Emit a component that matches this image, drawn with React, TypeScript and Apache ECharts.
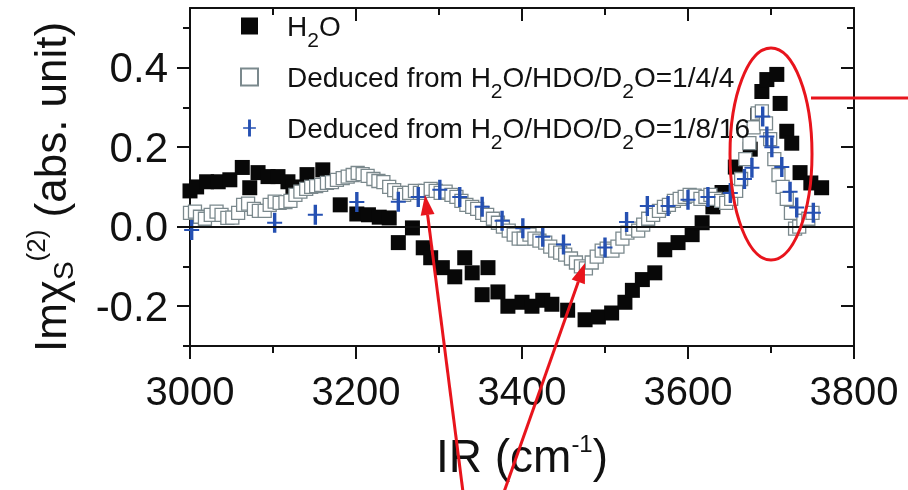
import React, { useEffect, useRef } from "react";
import * as echarts from "echarts";

const FONT = "'Liberation Sans', Arial, Helvetica, sans-serif";

// X axis
const X_MIN = 3000;
const X_MAX = 3800;
const X_STEP = 200;
// Y axis (full data range, minor tick range, major tick range)
const Y_MIN = -0.3;
const Y_MAX = 0.55;
const Y_MINOR_MAX = 0.5;
const Y_MINOR_STEP = 0.1;
const Y_MAJOR_MIN = -0.2;
const Y_MAJOR_MAX = 0.4;
const Y_MAJOR_STEP = 0.2;

const seriesNames = ["H2O", "Deduced 1/4/4", "Deduced 1/8/16"];
const legendLabels = [
  "H{sub|2}O",
  "Deduced from H{sub|2}O/HDO/D{sub|2}O=1/4/4",
  "Deduced from H{sub|2}O/HDO/D{sub|2}O=1/8/16",
];

// H2O (filled squares)
const h2oX = [3000, 3008, 3020, 3034, 3048, 3063, 3072, 3082, 3094, 3106, 3118, 3124, 3141, 3160, 3181, 3201, 3215, 3228, 3240, 3251, 3268, 3281, 3290, 3304, 3319, 3331, 3340, 3352, 3359, 3371, 3383, 3400, 3412, 3425, 3436, 3455, 3476, 3492, 3508, 3524, 3533, 3545, 3560, 3572, 3588, 3605, 3617, 3630, 3641, 3657, 3675, 3684, 3689, 3695, 3707, 3711, 3719, 3725, 3735, 3748, 3761];
const h2oY = [0.09, 0.1, 0.113, 0.113, 0.118, 0.149, 0.098, 0.136, 0.126, 0.126, 0.113, 0.1, 0.131, 0.143, 0.055, 0.032, 0.03, 0.024, 0.022, -0.04, -0.003, -0.053, -0.078, -0.103, -0.126, -0.078, -0.116, -0.171, -0.103, -0.164, -0.2, -0.19, -0.2, -0.185, -0.195, -0.21, -0.234, -0.227, -0.217, -0.19, -0.16, -0.133, -0.116, -0.058, -0.04, -0.02, 0.01, 0.05, 0.086, 0.15, 0.195, 0.28, 0.34, 0.37, 0.383, 0.31, 0.24, 0.21, 0.136, 0.11, 0.098];

// Deduced from H2O/HDO/D2O = 1/4/4 (open squares)
const d144X = [3000, 3006, 3012, 3018, 3025, 3032, 3038, 3045, 3051, 3058, 3064, 3070, 3077, 3083, 3090, 3096, 3102, 3108, 3115, 3121, 3127, 3133, 3140, 3146, 3152, 3158, 3165, 3171, 3177, 3184, 3190, 3196, 3202, 3208, 3214, 3221, 3227, 3233, 3240, 3246, 3252, 3258, 3264, 3271, 3277, 3283, 3290, 3296, 3302, 3308, 3315, 3321, 3327, 3333, 3340, 3346, 3352, 3358, 3365, 3371, 3377, 3384, 3390, 3396, 3402, 3409, 3415, 3421, 3428, 3434, 3440, 3446, 3452, 3459, 3465, 3471, 3477, 3484, 3490, 3496, 3502, 3509, 3515, 3521, 3527, 3533, 3540, 3546, 3552, 3558, 3565, 3571, 3577, 3583, 3590, 3596, 3602, 3608, 3615, 3621, 3627, 3633, 3640, 3646, 3652, 3658, 3664, 3669, 3674, 3679, 3684, 3689, 3694, 3699, 3704, 3709, 3714, 3719, 3724, 3729, 3734, 3739, 3745, 3750];
const d144Y = [0.035, 0.038, 0.025, 0.02, 0.03, 0.038, 0.03, 0.022, 0.023, 0.035, 0.055, 0.058, 0.045, 0.04, 0.04, 0.055, 0.063, 0.06, 0.062, 0.065, 0.08, 0.088, 0.095, 0.1, 0.102, 0.105, 0.11, 0.112, 0.118, 0.122, 0.126, 0.13, 0.135, 0.132, 0.128, 0.12, 0.115, 0.112, 0.1, 0.092, 0.085, 0.08, 0.085, 0.09, 0.085, 0.09, 0.095, 0.09, 0.085, 0.088, 0.08, 0.075, 0.065, 0.055, 0.05, 0.045, 0.035, 0.03, 0.02, 0.01, 0.0, -0.01, -0.02, -0.03, -0.03, -0.02, -0.03, -0.035, -0.04, -0.05, -0.06, -0.065, -0.07, -0.08, -0.09, -0.1, -0.105, -0.09, -0.075, -0.06, -0.055, -0.06, -0.05, -0.03, -0.015, -0.005, -0.01, 0.005, 0.02, 0.03, 0.04, 0.05, 0.055, 0.065, 0.07, 0.075, 0.08, 0.078, 0.07, 0.075, 0.08, 0.07, 0.065, 0.06, 0.07, 0.09, 0.12, 0.17, 0.21, 0.25, 0.285, 0.29, 0.26, 0.22, 0.17, 0.13, 0.1, 0.07, 0.035, -0.005, 0.0, 0.015, 0.02, 0.035];

// Deduced from H2O/HDO/D2O = 1/8/16 (plus)
const d1816X = [3002, 3102, 3151, 3201, 3251, 3275, 3301, 3325, 3352, 3376, 3401, 3425, 3450, 3500, 3526, 3551, 3576, 3600, 3624, 3651, 3668, 3677, 3690, 3695, 3701, 3713, 3723, 3731, 3751];
const d1816Y = [-0.008, 0.01, 0.03, 0.062, 0.063, 0.075, 0.093, 0.075, 0.05, 0.015, -0.004, -0.025, -0.045, -0.052, 0.012, 0.052, 0.052, 0.068, 0.075, 0.085, 0.12, 0.148, 0.277, 0.227, 0.2, 0.15, 0.088, 0.048, 0.035];

const zip = (xs: number[], ys: number[]) => {
  const n = Math.min(xs.length, ys.length);
  const out: number[][] = [];
  for (let i = 0; i < n; i++) out.push([xs[i], ys[i]]);
  return out;
};

const PLUS = "path://M5.8,0H9.2V9H15V11H9.2V20H5.8V11H0V9H5.8Z";
const INK = "#111111";
const RED = "#e8141c";

// plot box in pixels
const PLOT_LEFT = 190;
const PLOT_RIGHT = 54;
const PLOT_TOP = 8;
const PLOT_BOTTOM = 144;
const CHART_H = 490;
const plotH = CHART_H - PLOT_TOP - PLOT_BOTTOM;
const yPx = (v: number) => PLOT_TOP + ((Y_MAX - v) / (Y_MAX - Y_MIN)) * plotH;

const axLine = () => ({ show: true, onZero: false, lineStyle: { color: INK, width: 2 } });
const tick = (inside: boolean, length: number) => ({ show: true, inside, length, lineStyle: { color: INK, width: 2 } });

function buildOption(): any {
  return {
    animation: false,
    grid: [
      { left: PLOT_LEFT, right: PLOT_RIGHT, top: PLOT_TOP, bottom: PLOT_BOTTOM },
      { left: PLOT_LEFT, right: PLOT_RIGHT, top: yPx(Y_MINOR_MAX), bottom: CHART_H - yPx(Y_MIN) },
      { left: PLOT_LEFT, right: PLOT_RIGHT, top: yPx(Y_MAJOR_MAX), bottom: CHART_H - yPx(Y_MAJOR_MIN) },
    ],
    legend: {
      orient: "vertical",
      left: 240,
      top: 2,
      padding: 0,
      itemGap: 3,
      itemWidth: 17,
      itemHeight: 17,
      selectedMode: false,
      data: seriesNames,
      formatter: (name: string) => legendLabels[seriesNames.indexOf(name)],
      textStyle: {
        fontFamily: FONT,
        fontSize: 28,
        color: INK,
        lineHeight: 48,
        padding: [0, 0, 0, 24],
        rich: {
          sub: { fontFamily: FONT, fontSize: 21, lineHeight: 18, verticalAlign: "bottom", color: INK },
        },
      },
    },
    xAxis: [
      {
        type: "value",
        gridIndex: 0,
        min: X_MIN,
        max: X_MAX,
        interval: X_STEP,
        position: "bottom",
        axisLine: axLine(),
        axisTick: tick(false, 13),
        minorTick: { show: true, splitNumber: 2, length: 7, lineStyle: { color: INK, width: 2 } },
        splitLine: { show: false },
        minorSplitLine: { show: false },
        axisLabel: { fontFamily: FONT, fontSize: 40, color: INK, margin: 25, formatter: (v: number) => String(v) },
        name: "IR (cm{sup|-1})",
        nameLocation: "middle",
        nameGap: 85,
        nameTextStyle: {
          fontFamily: FONT,
          fontSize: 46,
          color: INK,
          lineHeight: 50,
          rich: { sup: { fontFamily: FONT, fontSize: 24, lineHeight: 24, verticalAlign: "top", color: INK } },
        },
      },
      {
        type: "value",
        gridIndex: 0,
        min: X_MIN,
        max: X_MAX,
        interval: X_STEP,
        position: "top",
        axisLine: axLine(),
        axisTick: tick(true, 13),
        minorTick: { show: true, splitNumber: 2, length: 7, lineStyle: { color: INK, width: 2 } },
        splitLine: { show: false },
        minorSplitLine: { show: false },
        axisLabel: { show: false },
      },
      { type: "value", gridIndex: 1, min: X_MIN, max: X_MAX, show: false },
      { type: "value", gridIndex: 2, min: X_MIN, max: X_MAX, show: false },
    ],
    yAxis: [
      {
        type: "value",
        gridIndex: 0,
        min: Y_MIN,
        max: Y_MAX,
        position: "left",
        axisLine: axLine(),
        axisTick: { show: false },
        splitLine: { show: false },
        axisLabel: { show: false },
      },
      {
        type: "value",
        gridIndex: 0,
        min: Y_MIN,
        max: Y_MAX,
        position: "right",
        axisLine: axLine(),
        axisTick: { show: false },
        splitLine: { show: false },
        axisLabel: { show: false },
      },
      {
        type: "value",
        gridIndex: 1,
        min: Y_MIN,
        max: Y_MINOR_MAX,
        interval: Y_MINOR_STEP,
        position: "left",
        axisLine: { show: false },
        axisTick: tick(false, 7),
        splitLine: { show: false },
        axisLabel: { show: false },
      },
      {
        type: "value",
        gridIndex: 1,
        min: Y_MIN,
        max: Y_MINOR_MAX,
        interval: Y_MINOR_STEP,
        position: "right",
        axisLine: { show: false },
        axisTick: tick(true, 7),
        splitLine: { show: false },
        axisLabel: { show: false },
      },
      {
        type: "value",
        gridIndex: 2,
        min: Y_MAJOR_MIN,
        max: Y_MAJOR_MAX,
        interval: Y_MAJOR_STEP,
        position: "left",
        axisLine: { show: false },
        axisTick: tick(false, 13),
        splitLine: { show: false },
        axisLabel: {
          formatter: (v: number) => v.toFixed(1),
          fontFamily: FONT,
          fontSize: 42,
          color: INK,
          margin: 22,
        },
        name: "Imχ{sub|S}{sup|(2)} (abs. unit)",
        nameLocation: "middle",
        nameRotate: 90,
        nameGap: 113,
        nameTextStyle: {
          fontFamily: FONT,
          fontSize: 44,
          color: INK,
          lineHeight: 54,
          rich: {
            sub: { fontFamily: FONT, fontSize: 28, lineHeight: 26, verticalAlign: "bottom", color: INK },
            sup: { fontFamily: FONT, fontSize: 26, lineHeight: 26, verticalAlign: "top", color: INK },
          },
        },
      },
      {
        type: "value",
        gridIndex: 2,
        min: Y_MAJOR_MIN,
        max: Y_MAJOR_MAX,
        interval: Y_MAJOR_STEP,
        position: "right",
        axisLine: { show: false },
        axisTick: tick(true, 13),
        splitLine: { show: false },
        axisLabel: { show: false },
      },
    ],
    series: [
      {
        name: seriesNames[0],
        type: "scatter",
        xAxisIndex: 0,
        yAxisIndex: 0,
        symbol: "rect",
        symbolSize: 15,
        data: zip(h2oX, h2oY),
        itemStyle: { color: "#080808", opacity: 1 },
        z: 2,
        markLine: {
          silent: true,
          symbol: "none",
          label: { show: false },
          lineStyle: { color: INK, width: 2, type: "solid", opacity: 1 },
          data: [{ yAxis: 0 }],
        },
      },
      {
        name: seriesNames[1],
        type: "scatter",
        xAxisIndex: 0,
        yAxisIndex: 0,
        symbol: "rect",
        symbolSize: 13,
        data: zip(d144X, d144Y),
        itemStyle: { color: "#ffffff", borderColor: "#7b898d", borderWidth: 1.3, opacity: 1 },
        z: 3,
      },
      {
        name: seriesNames[2],
        type: "scatter",
        xAxisIndex: 0,
        yAxisIndex: 0,
        symbol: PLUS,
        symbolSize: [15, 20],
        data: zip(d1816X, d1816Y),
        itemStyle: { color: "#2550b2", opacity: 1 },
        z: 4,
      },
    ],
    graphic: [
      {
        type: "ellipse",
        shape: { cx: 771, cy: 154, rx: 41, ry: 106 },
        style: { fill: "none", stroke: RED, lineWidth: 3 },
        z: 100,
      },
      {
        type: "line",
        shape: { x1: 811, y1: 98, x2: 908, y2: 98 },
        style: { stroke: RED, lineWidth: 3 },
        z: 100,
      },
      {
        type: "line",
        shape: { x1: 463, y1: 492, x2: 427.6, y2: 214.8 },
        style: { stroke: RED, lineWidth: 3 },
        z: 100,
      },
      {
        type: "polygon",
        shape: { points: [[425, 195], [434.5, 213.9], [420.7, 215.7]] },
        style: { fill: RED },
        z: 100,
      },
      {
        type: "line",
        shape: { x1: 504, y1: 492, x2: 578.3, y2: 281.8 },
        style: { stroke: RED, lineWidth: 3 },
        z: 100,
      },
      {
        type: "polygon",
        shape: { points: [[585, 263], [584.9, 284.2], [571.7, 279.5]] },
        style: { fill: RED },
        z: 100,
      },
    ],
  };
}

export default function App() {
  const ref = useRef<HTMLDivElement>(null);
  useEffect(() => {
    document.body.style.margin = "0";
    if (!ref.current) return;
    const chart = echarts.init(ref.current, null, { renderer: "svg" });
    chart.setOption(buildOption());
    return () => chart.dispose();
  }, []);
  return <div ref={ref} style={{ position: "fixed", left: 0, top: 0, width: 908, height: 490 }} />;
}
